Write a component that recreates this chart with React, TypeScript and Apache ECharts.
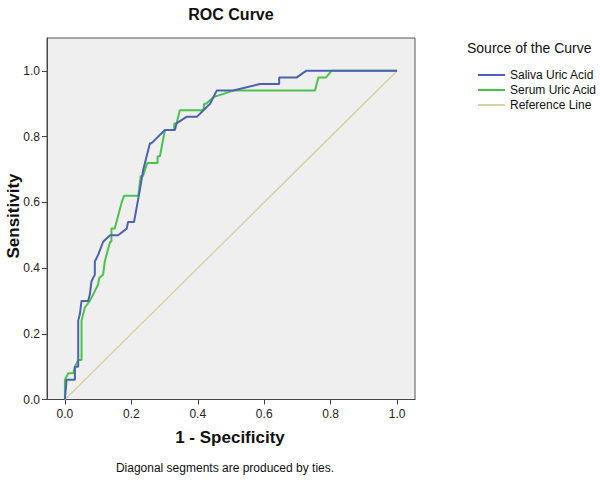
import React, { useEffect, useRef } from "react";
import * as echarts from "echarts";

const tickValues = [0, 0.2, 0.4, 0.6, 0.8, 1.0];

const salivaX = [0, 0.005, 0.03, 0.03, 0.04, 0.04, 0.045, 0.05, 0.07, 0.075, 0.08, 0.09, 0.09, 0.1, 0.115, 0.136, 0.16, 0.186, 0.19, 0.208, 0.226, 0.236, 0.246, 0.256, 0.261, 0.301, 0.331, 0.336, 0.366, 0.397, 0.417, 0.437, 0.457, 0.507, 0.587, 0.645, 0.645, 0.698, 0.726, 1.0];
const salivaY = [0, 0.06, 0.06, 0.1, 0.1, 0.24, 0.26, 0.3, 0.3, 0.32, 0.36, 0.38, 0.42, 0.44, 0.48, 0.5, 0.5, 0.52, 0.54, 0.54, 0.64, 0.7, 0.74, 0.78, 0.78, 0.82, 0.82, 0.84, 0.86, 0.86, 0.88, 0.9, 0.94, 0.94, 0.96, 0.96, 0.98, 0.98, 1.0, 1.0];

const serumX = [0, 0, 0.01, 0.025, 0.03, 0.04, 0.05, 0.05, 0.06, 0.075, 0.085, 0.1, 0.103, 0.115, 0.12, 0.136, 0.14, 0.14, 0.15, 0.171, 0.178, 0.221, 0.228, 0.235, 0.248, 0.279, 0.279, 0.286, 0.301, 0.329, 0.329, 0.336, 0.346, 0.417, 0.419, 0.425, 0.447, 0.507, 0.753, 0.763, 0.786, 0.803, 1.0];
const serumY = [0, 0.06, 0.08, 0.08, 0.1, 0.12, 0.12, 0.24, 0.28, 0.3, 0.32, 0.35, 0.37, 0.38, 0.42, 0.48, 0.48, 0.52, 0.52, 0.6, 0.62, 0.62, 0.68, 0.68, 0.72, 0.72, 0.74, 0.74, 0.82, 0.82, 0.84, 0.84, 0.88, 0.88, 0.9, 0.9, 0.92, 0.94, 0.94, 0.98, 0.98, 1.0, 1.0];

const referenceX = [0, 1];
const referenceY = [0, 1];

const seriesNames = ["Saliva Uric Acid", "Serum Uric Acid", "Reference Line"];
const colors = ["#4d61b3", "#4cc24c", "#d9d2a6"];

const zip = (xs: number[], ys: number[]) => xs.map((x, i) => [x, ys[i]]);

const FONT = "Liberation Sans, Arial, sans-serif";

export default function App() {
  const ref = useRef<HTMLDivElement>(null);
  useEffect(() => {
    if (!ref.current) return;
    const chart = echarts.init(ref.current, undefined, { renderer: "svg" });
    chart.setOption({
      animation: false,
      backgroundColor: "#ffffff",
      textStyle: { fontFamily: FONT },
      grid: {
        show: true,
        left: 47,
        top: 38,
        width: 368,
        height: 361.5,
        backgroundColor: "#efefef",
        borderColor: "#555",
        borderWidth: 1,
      },
      xAxis: {
        type: "value",
        min: -0.054,
        max: 1.054,
        splitLine: { show: false },
        axisLine: { show: true, onZero: false, lineStyle: { color: "#444", width: 1 } },
        axisTick: { show: true, length: 5, customValues: tickValues, lineStyle: { color: "#444" } },
        axisLabel: {
          customValues: tickValues,
          formatter: (v: number) => v.toFixed(1),
          color: "#222",
          fontSize: 12,
          fontFamily: FONT,
          margin: 8,
        },
      },
      yAxis: {
        type: "value",
        min: 0,
        max: 1.1,
        splitLine: { show: false },
        axisLine: { show: true, onZero: false, lineStyle: { color: "#444", width: 1 } },
        axisTick: { show: true, length: 5, customValues: tickValues, lineStyle: { color: "#444" } },
        axisLabel: {
          customValues: tickValues,
          formatter: (v: number) => v.toFixed(1),
          color: "#222",
          fontSize: 12,
          fontFamily: FONT,
          margin: 7,
        },
      },
      legend: {
        orient: "vertical",
        left: 473,
        top: 64,
        itemWidth: 27,
        itemHeight: 2,
        itemGap: 3,
        icon: "rect",
        data: seriesNames,
        textStyle: { fontSize: 12, color: "#111", fontFamily: FONT, padding: [0, 0, 0, 0] },
      },
      graphic: [
        {
          type: "text",
          style: {
            text: "ROC Curve",
            x: 231,
            y: 14,
            align: "center",
            verticalAlign: "middle",
            font: `bold 16px ${FONT}`,
            fill: "#111",
          },
        },
        {
          type: "text",
          style: {
            text: "Source of the Curve",
            x: 467,
            y: 48,
            align: "left",
            verticalAlign: "middle",
            font: `14px ${FONT}`,
            fill: "#111",
          },
        },
        {
          type: "text",
          x: 13,
          y: 216,
          rotation: Math.PI / 2,
          style: {
            text: "Sensitivity",
            x: 0,
            y: 0,
            align: "center",
            verticalAlign: "middle",
            font: `bold 17px ${FONT}`,
            fill: "#111",
          },
        },
        {
          type: "text",
          style: {
            text: "1 - Specificity",
            x: 230,
            y: 437,
            align: "center",
            verticalAlign: "middle",
            font: `bold 17px ${FONT}`,
            fill: "#111",
          },
        },
        {
          type: "text",
          style: {
            text: "Diagonal segments are produced by ties.",
            x: 225,
            y: 468,
            align: "center",
            verticalAlign: "middle",
            font: `12px ${FONT}`,
            fill: "#111",
          },
        },
      ],
      series: [
        {
          name: seriesNames[2],
          type: "line",
          data: zip(referenceX, referenceY),
          symbol: "none",
          z: 1,
          lineStyle: { color: colors[2], width: 1.5 },
          itemStyle: { color: colors[2] },
        },
        {
          name: seriesNames[1],
          type: "line",
          data: zip(serumX, serumY),
          symbol: "none",
          z: 2,
          lineStyle: { color: colors[1], width: 2 },
          itemStyle: { color: colors[1] },
        },
        {
          name: seriesNames[0],
          type: "line",
          data: zip(salivaX, salivaY),
          symbol: "none",
          z: 3,
          lineStyle: { color: colors[0], width: 2 },
          itemStyle: { color: colors[0] },
        },
      ],
    });
    return () => chart.dispose();
  }, []);
  return (
    <div
      ref={ref}
      style={{ position: "fixed", left: 0, top: 0, width: 600, height: 483 }}
    />
  );
}
